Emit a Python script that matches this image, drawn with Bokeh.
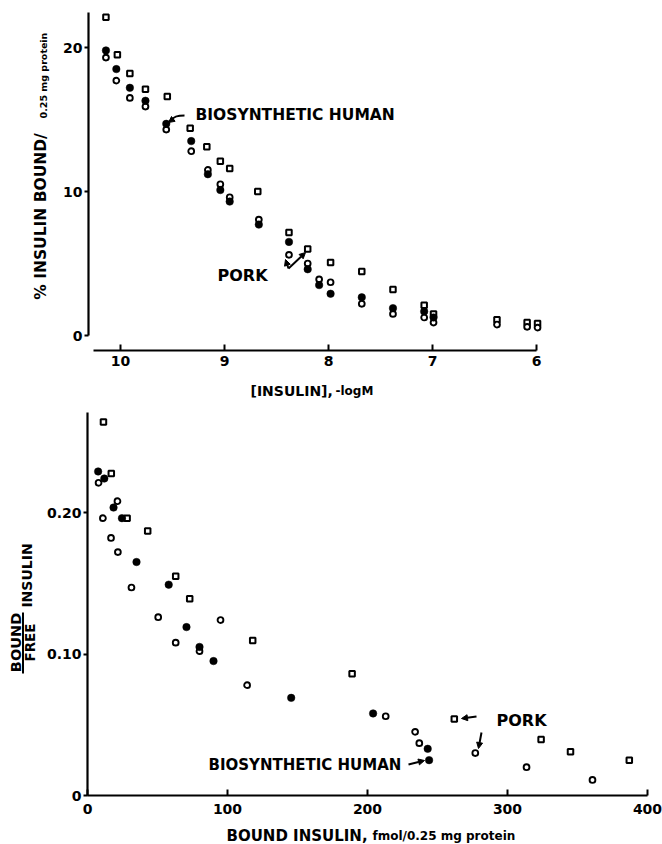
import math
from bokeh.plotting import figure
from bokeh.models import (Range1d, FixedTicker, CustomJSTickFormatter, Label,
                          Arrow, NormalHead)
from bokeh.layouts import column
from bokeh.embed import file_html
from bokeh.resources import INLINE

FONT = "DejaVu Sans"

# ---------------- top panel: % insulin bound vs [insulin], -logM ----------------
top_xticks = [6, 7, 8, 9, 10]
top_yticks = [0, 10, 20]

human_logM = [10.14, 10.04, 9.91, 9.76, 9.56, 9.32, 9.16, 9.04, 8.95, 8.67,
              8.38, 8.20, 8.09, 7.98, 7.68, 7.38, 7.08, 6.99]
human_bound = [19.8, 18.5, 17.2, 16.3, 14.7, 13.5, 11.2, 10.1, 9.3, 7.7,
               6.5, 4.6, 3.5, 2.9, 2.65, 1.9, 1.67, 1.25]

porkA_logM = [10.14, 10.04, 9.91, 9.76, 9.56, 9.32, 9.16, 9.04, 8.95, 8.67,
              8.38, 8.20, 8.09, 7.98, 7.68, 7.38, 7.08, 6.99, 6.38, 6.09, 5.99]
porkA_bound = [19.3, 17.7, 16.5, 15.9, 14.3, 12.8, 11.5, 10.5, 9.6, 8.05,
               5.6, 5.0, 3.9, 3.7, 2.2, 1.5, 1.25, 0.9, 0.76, 0.6, 0.55]

porkB_logM = [10.14, 10.03, 9.91, 9.76, 9.55, 9.33, 9.17, 9.04, 8.95, 8.68,
              8.38, 8.20, 7.98, 7.68, 7.38, 7.08, 6.99, 6.38, 6.09, 5.99]
porkB_bound = [22.1, 19.5, 18.2, 17.1, 16.6, 14.4, 13.1, 12.1, 11.6, 10.0,
               7.15, 6.0, 5.07, 4.45, 3.2, 2.1, 1.5, 1.1, 0.9, 0.83]

# ---------------- bottom panel: Scatchard plot ----------------
bot_xticks = [0, 100, 200, 300, 400]
bot_yticks = [0, 0.10, 0.20]

human_B = [7.6, 12, 18.6, 24.6, 35, 58, 70.7, 80, 90, 145.5, 204, 243, 244]
human_BF = [0.229, 0.224, 0.2035, 0.196, 0.165, 0.149, 0.119, 0.105, 0.095,
            0.069, 0.058, 0.033, 0.025]

porkA_B = [7.9, 11, 21.4, 16.8, 21.7, 31.4, 50.5, 63, 80, 95, 114, 213, 234,
           237, 277, 313.6, 360.7]
porkA_BF = [0.221, 0.196, 0.208, 0.182, 0.172, 0.147, 0.126, 0.108, 0.102,
            0.124, 0.078, 0.056, 0.045, 0.037, 0.030, 0.020, 0.011]

porkB_B = [11.4, 17, 28.3, 43, 63, 73, 118, 189, 262, 324, 345, 387]
porkB_BF = [0.264, 0.2275, 0.196, 0.187, 0.155, 0.139, 0.1095, 0.086, 0.054,
            0.0395, 0.031, 0.025]


# page-pixel -> data helpers (used only to place annotations)
def tx(px):
    return 10 - (px - 120) / 104.0


def ty(py):
    return (335 - py) / 14.4


def bx(px):
    return (px - 87) / 1.4


def by(py):
    return (795 - py) / 1415.0


def style(p, xticks, yticks):
    p.xgrid.visible = False
    p.ygrid.visible = False
    p.outline_line_color = None
    p.background_fill_color = "white"
    p.border_fill_color = "white"
    p.xaxis.ticker = FixedTicker(ticks=xticks)
    p.yaxis.ticker = FixedTicker(ticks=yticks)
    for ax in (p.xaxis, p.yaxis):
        ax.axis_line_width = 2.2
        ax.axis_line_color = "black"
        ax.major_tick_line_width = 2
        ax.major_tick_line_color = "black"
        ax.minor_tick_line_color = None
        ax.major_label_text_font = FONT
        ax.major_label_text_font_style = "bold"
        ax.major_label_text_font_size = "14px"
        ax.major_label_text_color = "black"
    p.xaxis.major_tick_in = 6
    p.xaxis.major_tick_out = 0
    p.yaxis.major_tick_in = 0
    p.yaxis.major_tick_out = 4
    p.yaxis.major_label_standoff = 2


def lab(p, text, x, y, size, angle=0.0, align="left"):
    p.add_layout(Label(x=x, y=y, text=text,
                       text_font=FONT, text_font_style="bold",
                       text_font_size=size, text_color="black", angle=angle,
                       text_align=align, text_baseline="middle"))


def arrow(p, x0, y0, x1, y1, head=True):
    p.add_layout(Arrow(x_start=x0, y_start=y0, x_end=x1, y_end=y1,
                       line_width=2, line_color="black",
                       end=NormalHead(size=6, fill_color="black",
                                      line_color="black") if head else None))


def markers(p, xs_f, ys_f, xs_c, ys_c, xs_s, ys_s):
    p.scatter(xs_s, ys_s, marker="square", size=5.5, line_width=2,
              line_color="black", fill_color="white")
    p.scatter(xs_c, ys_c, marker="circle", size=5.8, line_width=1.9,
              line_color="black", fill_color="white")
    p.scatter(xs_f, ys_f, marker="circle", size=7.5, line_width=0.5,
              line_color="black", fill_color="black")


VERT = math.pi / 2
SPLIT = 408  # page y where the top figure ends

# ---------- top figure ----------
p1 = figure(width=662, height=SPLIT,
            x_range=Range1d(tx(0), tx(662)), y_range=Range1d(ty(SPLIT), ty(0)),
            output_backend="svg", toolbar_location=None, min_border=0)
style(p1, top_xticks, top_yticks)
p1.xaxis.fixed_location = ty(350)
p1.yaxis.fixed_location = tx(88)
p1.xaxis.bounds = (6, 10.26)
p1.yaxis.bounds = (0, 22.4)
p1.xaxis.major_label_standoff = 5
markers(p1, human_logM, human_bound, porkA_logM, porkA_bound,
        porkB_logM, porkB_bound)

lab(p1, "BIOSYNTHETIC HUMAN", tx(195), ty(114), "15.5px")
p1.bezier(x0=[tx(184)], y0=[ty(115)], x1=[tx(172)], y1=[ty(119)],
          cx0=[tx(176)], cy0=[ty(115)], cx1=[tx(173)], cy1=[ty(116)],
          line_width=2, line_color="black")
arrow(p1, tx(172), ty(119), tx(168), ty(122))
lab(p1, "PORK", tx(217), ty(275), "16px")
arrow(p1, tx(288), ty(268), tx(285), ty(259))
arrow(p1, tx(288), ty(268), tx(305), ty(252))

lab(p1, "% INSULIN BOUND/", tx(40), ty(216), "15.5px", angle=VERT,
    align="center")
lab(p1, "0.25 mg protein", tx(43), ty(75), "9.5px", angle=VERT,
    align="center")
lab(p1, "[INSULIN],", tx(250), ty(390), "14px")
lab(p1, "-logM", tx(335), ty(390), "12px")

# ---------- bottom figure ----------
p2 = figure(width=662, height=844 - SPLIT,
            x_range=Range1d(bx(0), bx(662)), y_range=Range1d(by(844), by(SPLIT)),
            output_backend="svg", toolbar_location=None, min_border=0)
style(p2, bot_xticks, bot_yticks)
p2.xaxis.fixed_location = 0
p2.yaxis.fixed_location = 0
p2.xaxis.bounds = (0, 400)
p2.yaxis.bounds = (0, 0.271)
p2.xaxis.major_label_standoff = 8
p2.yaxis.formatter = CustomJSTickFormatter(
    code="return tick == 0 ? '0' : tick.toFixed(2);")
markers(p2, human_B, human_BF, porkA_B, porkA_BF, porkB_B, porkB_BF)

lab(p2, "PORK", bx(496), by(720), "16px")
arrow(p2, bx(476), by(716), bx(461), by(718))
arrow(p2, bx(481), by(732), bx(478), by(748))
lab(p2, "BIOSYNTHETIC HUMAN", bx(208), by(764), "15px")
arrow(p2, bx(408), by(764), bx(424), by(760))

lab(p2, "BOUND", bx(15), by(642), "14.5px", angle=VERT, align="center")
p2.line([bx(22.5), bx(22.5)], [by(612), by(673)], line_width=2,
        line_color="black")
lab(p2, "FREE", bx(29), by(642), "13.5px", angle=VERT, align="center")
lab(p2, "INSULIN", bx(26), by(575), "14px", angle=VERT, align="center")
lab(p2, "BOUND INSULIN,", bx(226), by(835), "15px")
lab(p2, "fmol/0.25 mg protein", bx(372), by(835), "12px")

layout = column(p1, p2)
open("out.html", "w").write(file_html(layout, INLINE))
